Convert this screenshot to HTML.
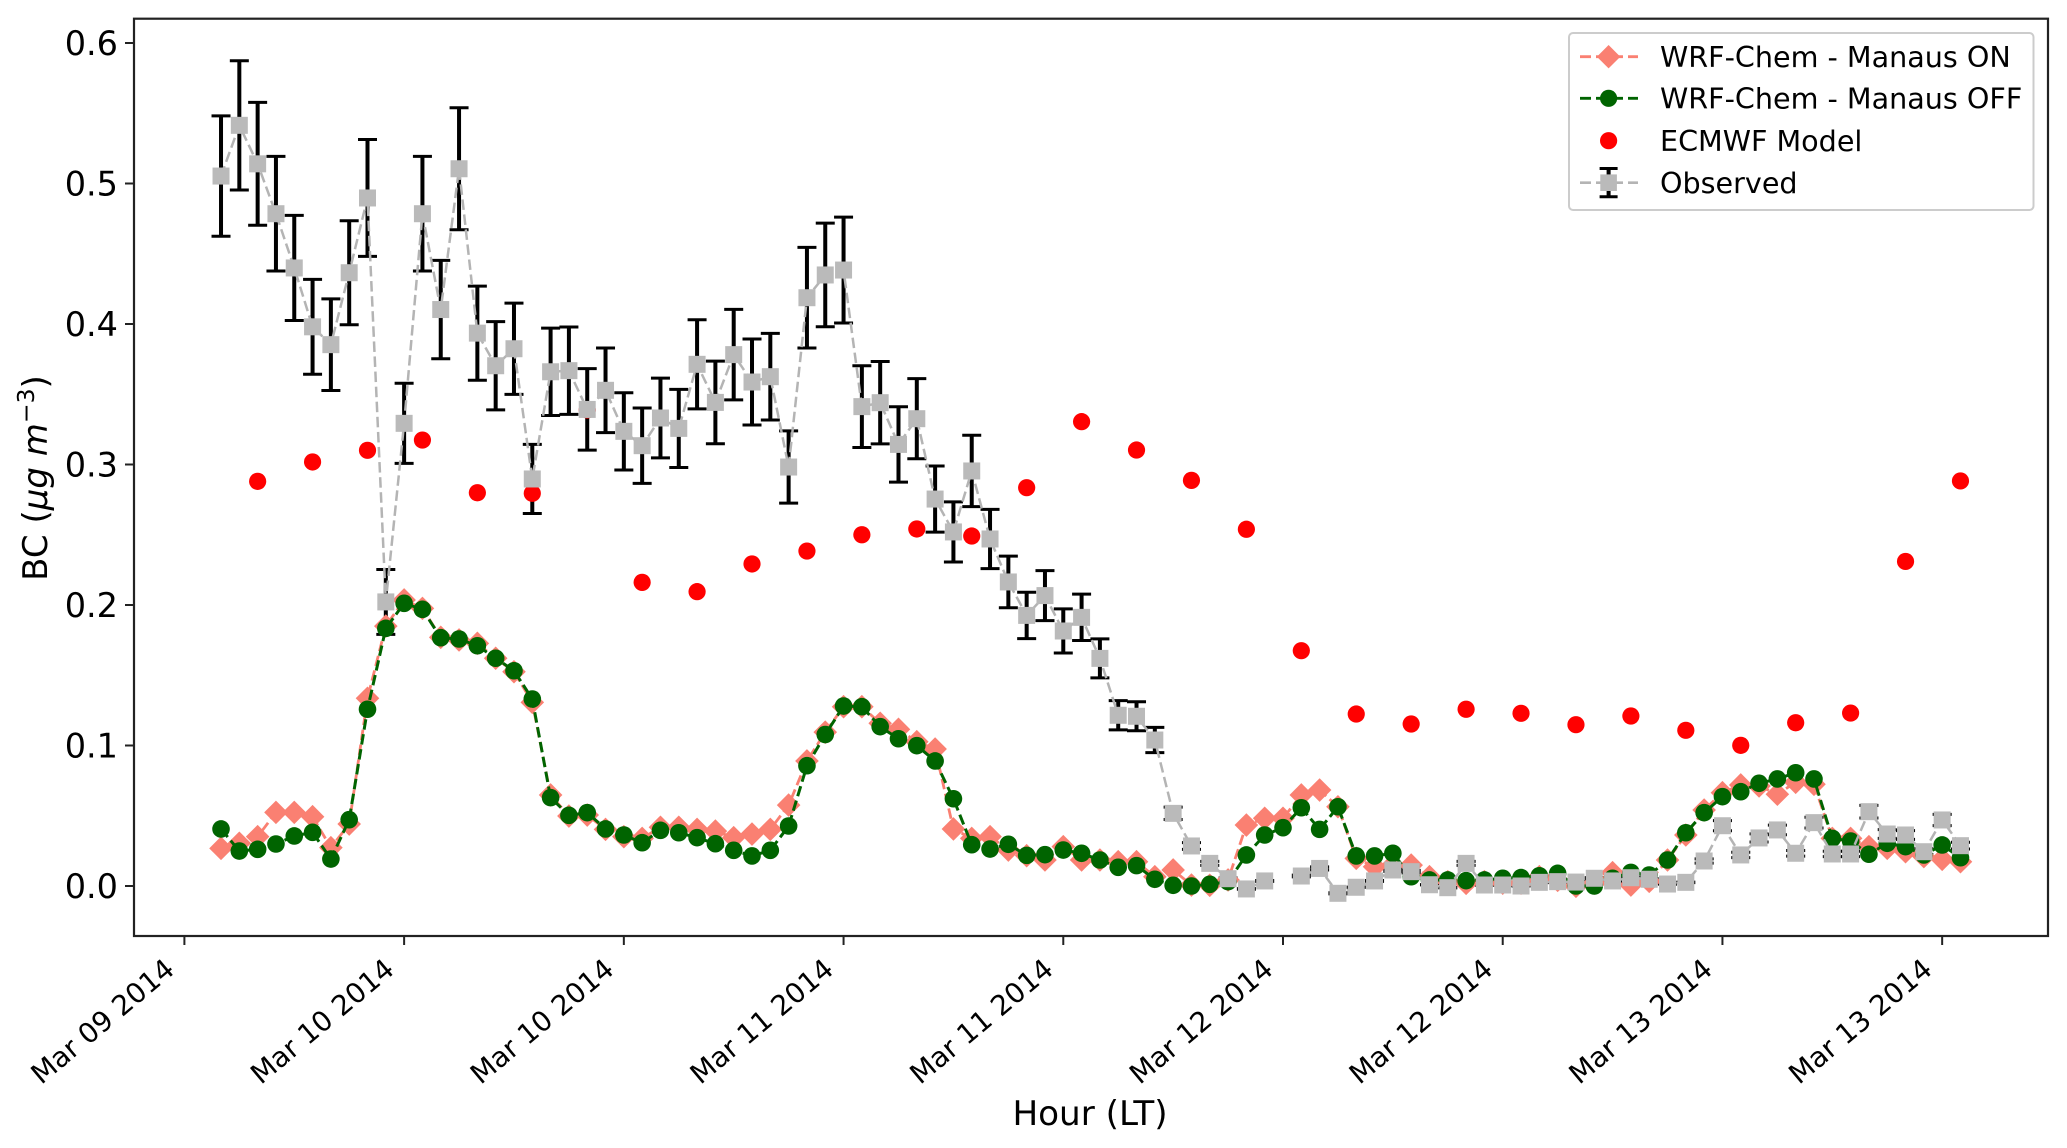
<!DOCTYPE html>
<html lang="en">
<head>
<meta charset="utf-8">
<title>BC observed vs modelled, March 2014</title>
<style>
html,body{margin:0;padding:0;background:#fff;width:2067px;height:1148px;overflow:hidden}
svg{display:block}
text{font-family:"DejaVu Sans","Liberation Sans",sans-serif;fill:#000}
</style>
</head>
<body>
<svg id="chart" xmlns="http://www.w3.org/2000/svg" width="2067" height="1148" viewBox="0 0 2067 1148">
  <rect x="0" y="0" width="2067" height="1148" fill="#fff"/>
  <g id="ticks"></g>
  <g id="marks"></g>
  <rect x="134" y="18.7" width="1914" height="917.3" fill="none" stroke="#222" stroke-width="2.2"/>
  <text x="1090" y="1125" font-size="34.2" text-anchor="middle">Hour (LT)</text>
  <text transform="translate(47,478) rotate(-90)" font-size="34" text-anchor="middle">BC (<tspan font-style="italic">μg m</tspan><tspan font-size="23.5" dy="-13">−3</tspan><tspan dy="13">)</tspan></text>
  <g>
    <rect x="1569" y="33" width="464.5" height="177" rx="4" ry="4" fill="#fff" fill-opacity="0.9" stroke="#ccc" stroke-width="2"/>
    <g>
      <line x1="1580" x2="1638" y1="56.7" y2="56.7" stroke="#fa8072" stroke-width="2.8" stroke-dasharray="11 5"/>
      <polygon points="1608.6,45 1620.3,56.7 1608.6,68.4 1596.9,56.7" fill="#fa8072"/>
      <text x="1660" y="67" font-size="28.6">WRF-Chem - Manaus ON</text>
    </g>
    <g>
      <line x1="1580" x2="1638" y1="98.3" y2="98.3" stroke="#006400" stroke-width="2.8" stroke-dasharray="11 5"/>
      <circle cx="1608.6" cy="98.3" r="8.6" fill="#006400"/>
      <text x="1660" y="108.6" font-size="28.6">WRF-Chem - Manaus OFF</text>
    </g>
    <g>
      <circle cx="1608.6" cy="140.7" r="8.6" fill="#ff0000"/>
      <text x="1660" y="151" font-size="28.6">ECMWF Model</text>
    </g>
    <g>
      <line x1="1580" x2="1638" y1="182.7" y2="182.7" stroke="#b4b4b4" stroke-width="2.6" stroke-dasharray="11 5"/>
      <line x1="1608.6" x2="1608.6" y1="168.5" y2="196.7" stroke="#000" stroke-width="4"/>
      <line x1="1599.6" x2="1617.6" y1="168.5" y2="168.5" stroke="#000" stroke-width="3"/>
      <line x1="1599.6" x2="1617.6" y1="196.7" y2="196.7" stroke="#000" stroke-width="3"/>
      <rect x="1600.3" y="174.4" width="16.6" height="16.6" fill="#bababa"/>
      <text x="1660" y="193" font-size="28.6">Observed</text>
    </g>
  </g>
</svg>
<script>
const xTickHours = [0, 12, 24, 36, 48, 60, 72, 84, 96];
const xTickLabels = ["Mar 09 2014", "Mar 10 2014", "Mar 10 2014", "Mar 11 2014", "Mar 11 2014", "Mar 12 2014", "Mar 12 2014", "Mar 13 2014", "Mar 13 2014"];
const yTickValues = [0.0, 0.1, 0.2, 0.3, 0.4, 0.5, 0.6];
const yTickLabels = ["0.0", "0.1", "0.2", "0.3", "0.4", "0.5", "0.6"];

const seriesStartHour = 2;
const ecmwfStartHour = 4;
const ecmwfStepHours = 3;

const manausOn = [
  .0268,.0304,.0351,.0524,.0524,.0493,.0273,.0441,.1336,.185,
  .2036,.1976,.177,.1751,.1727,.1621,.1525,.1307,.0648,.0498,
  .0505,.0403,.0351,.0339,.0418,.0418,.0403,.0391,.0344,.037,
  .0403,.0576,.0890,.1095,.1276,.1276,.1158,.1115,.1027,.0975,
  .0406,.0339,.0351,.0256,.0216,.0185,.028,.0185,.0185,.0173,
  .0173,.0066,.0114,.0007,.0005,.0043,.0434,.0482,.0482,.0648,
  .0683,.0564,.0197,.0137,.015,.0149,.0066,.0031,.0019,.0031,
  .002,.002,.0066,.004,-.0002,.002,.0095,.0007,.0033,.0185,
  .0363,.0541,.0664,.0719,.0712,.0653,.0738,.0724,.0339,.0339,
  .028,.0268,.0244,.0209,.019,.0173
];
const manausOff = [
  .0406,.0249,.0261,.0299,.0356,.0382,.0192,.0472,.1258,.1834,
  .2012,.1969,.1767,.1758,.171,.1621,.1532,.1331,.0629,.0503,
  .0522,.0406,.0363,.0308,.0396,.0379,.0344,.0301,.0254,.0214,
  .0254,.0427,.0856,.1078,.1281,.1276,.1134,.1048,.0999,.089,
  .0621,.0294,.0263,.0297,.0218,.0223,.0256,.0233,.0185,.0133,
  .0145,.0048,.0005,0,.0012,.0031,.0221,.0363,.0415,.0557,
  .0403,.0564,.0214,.0214,.0233,.0066,.0043,.0043,.0038,.0043,
  .0055,.006,.0073,.009,.0,.0,.0055,.0097,.0078,.0185,
  .0379,.0522,.0636,.0671,.0731,.0762,.0806,.0762,.0339,.032,
  .0226,.0304,.028,.0221,.0292,.0201
];
const ecmwfValues = [
  .288,.3018,.3101,.3174,.2799,.2795,.3388,.2161,.2095,.2292,.2384,
  .25,.2541,.2491,.2835,.3305,.3103,.2887,.2539,.1675,.1224,.1153,
  .1258,.1229,.1148,.121,.1108,.1001,.1162,.1231,.231,.2883
];
const observedValues = [
  .5053,.5414,.514,.4785,.4399,.398,.3853,.4365,.4897,.2022,
  .3293,.4785,.4103,.5105,.3935,.3703,.3824,.2897,.366,.3668,
  .3392,.3528,.3236,.3134,.3331,.3257,.3713,.3442,.3782,.3587,
  .3625,.2982,.4187,.4349,.4384,.3412,.344,.3143,.3326,.2754,
  .252,.2954,.247,.2164,.1926,.2067,.1815,.1912,.162,.1215,
  .1208,.1039,.0517,.0285,.0161,.0052,-.0021,.0036,null,.0071,
  .0125,-.0052,-.0009,.0036,.0114,.0102,.0009,-.0012,.0161,.0007,
  .0007,0,.0026,.0031,.0028,.0055,.0036,.0059,.0048,.0014,
  .0026,.0178,.0429,.0221,.0342,.0399,.0233,.0451,.0228,.0228,
  .0529,.037,.0363,.0244,.047,.0287
];
const observedErrors = [
  .0428,.046,.0437,.0408,.0374,.0338,.0326,.037,.0416,.0231,
  .0285,.0408,.035,.0434,.0335,.0314,.0325,.0246,.0311,.0311,
  .029,.0301,.0275,.0268,.0284,.0278,.0317,.0294,.0322,.0306,
  .0308,.0257,.0358,.0369,.0377,.0291,.0293,.0268,.0285,.0235,
  .0214,.0254,.0211,.0184,.0165,.0178,.0157,.0165,.0139,.0104,
  .0103,.009,.0044,.0024,.0014,.0005,.0002,.0003,null,.0006,
  .0011,.0004,.0001,.0003,.001,.0009,.0001,.0001,.0014,.0001,
  .0001,0,.0002,.0003,.0002,.0005,.0003,.0005,.0004,.0001,
  .0002,.0015,.0036,.0019,.0029,.0034,.002,.0038,.0019,.0019,
  .0045,.0031,.0031,.0021,.004,.0024
];

function xScale(hour) { return 184.4 + 18.31 * hour; }
function yScale(value) { return 886 - 1405 * value; }

const NS = "http://www.w3.org/2000/svg";
const ticksLayer = document.getElementById("ticks");
const marksLayer = document.getElementById("marks");

function make(tag, parent, attrs) {
  const el = document.createElementNS(NS, tag);
  for (const k in attrs) el.setAttribute(k, attrs[k]);
  parent.appendChild(el);
  return el;
}
function group(parent) { return make("g", parent, {}); }

function linePath(values, startHour) {
  let d = "", pen = false;
  values.forEach(function (v, i) {
    if (v === null) { pen = false; return; }
    d += (pen ? "L" : "M") + xScale(startHour + i).toFixed(2) + " " + yScale(v).toFixed(2);
    pen = true;
  });
  return d;
}

/* axis ticks */
xTickHours.forEach(function (h, i) {
  const tick = make("line", ticksLayer, { x1: xScale(h), x2: xScale(h), y1: 936, y2: 945, stroke: "#222", "stroke-width": 2 });
  
  
  const label = make("text", ticksLayer, {
    transform: "translate(" + (xScale(h) - 8.2) + ",972) rotate(-40)",
    "font-size": 27.8, "text-anchor": "end"
  });
  label.textContent = xTickLabels[i];
  
  
});
yTickValues.forEach(function (v, i) {
  const tick = make("line", ticksLayer, { x1: 125, x2: 134, y1: yScale(v), y2: yScale(v), stroke: "#222", "stroke-width": 2 });
  
  
  const label = make("text", ticksLayer, { x: 118, y: yScale(v) + 12, "font-size": 33.5, "text-anchor": "end" });
  label.textContent = yTickLabels[i];
  
  
});

/* observed error bars, drawn beneath every other series */
const errLayer = group(marksLayer);


observedValues.forEach(function (v, i) {
  if (v === null) return;
  const x = xScale(seriesStartHour + i);
  const hi = yScale(v + observedErrors[i]);
  const lo = yScale(v - observedErrors[i]);
  const bar = make("path", errLayer, {
    d: "M" + x + " " + hi + "L" + x + " " + lo,
    stroke: "#000", "stroke-width": 4, fill: "none"
  });
  
  
  const caps = make("path", errLayer, {
    d: "M" + (x - 9.5) + " " + hi + "L" + (x + 9.5) + " " + hi + "M" + (x - 9.5) + " " + lo + "L" + (x + 9.5) + " " + lo,
    stroke: "#000", "stroke-width": 3, fill: "none"
  });
  
  
});

/* WRF-Chem Manaus ON */
const onLayer = group(marksLayer);


const onLine = make("path", onLayer, { d: linePath(manausOn, seriesStartHour), fill: "none", stroke: "#fa8072", "stroke-width": 2.8, "stroke-dasharray": "10.5 4.6" });


manausOn.forEach(function (v, i) {
  const x = xScale(seriesStartHour + i), y = yScale(v), r = 11.8;
  const m = make("polygon", onLayer, { points: x + "," + (y - r) + " " + (x + r) + "," + y + " " + x + "," + (y + r) + " " + (x - r) + "," + y, fill: "#fa8072" });
  
  
});

/* WRF-Chem Manaus OFF */
const offLayer = group(marksLayer);


const offLine = make("path", offLayer, { d: linePath(manausOff, seriesStartHour), fill: "none", stroke: "#006400", "stroke-width": 3, "stroke-dasharray": "10.5 4.6" });


manausOff.forEach(function (v, i) {
  const m = make("circle", offLayer, { cx: xScale(seriesStartHour + i), cy: yScale(v), r: 8.8, fill: "#006400" });
  
  
});

/* ECMWF */
const ecLayer = group(marksLayer);


ecmwfValues.forEach(function (v, i) {
  const m = make("circle", ecLayer, { cx: xScale(ecmwfStartHour + i * ecmwfStepHours), cy: yScale(v), r: 8.6, fill: "#ff0000" });
  
  
});

/* Observed */
const obsLayer = group(marksLayer);


const obsLine = make("path", obsLayer, { d: linePath(observedValues, seriesStartHour), fill: "none", stroke: "#b4b4b4", "stroke-width": 2.5, "stroke-dasharray": "10.5 4.6" });


observedValues.forEach(function (v, i) {
  if (v === null) return;
  const s = 17;
  const m = make("rect", obsLayer, { x: xScale(seriesStartHour + i) - s / 2, y: yScale(v) - s / 2, width: s, height: s, fill: "#bababa" });
  
  
});
</script>
</body>
</html>
